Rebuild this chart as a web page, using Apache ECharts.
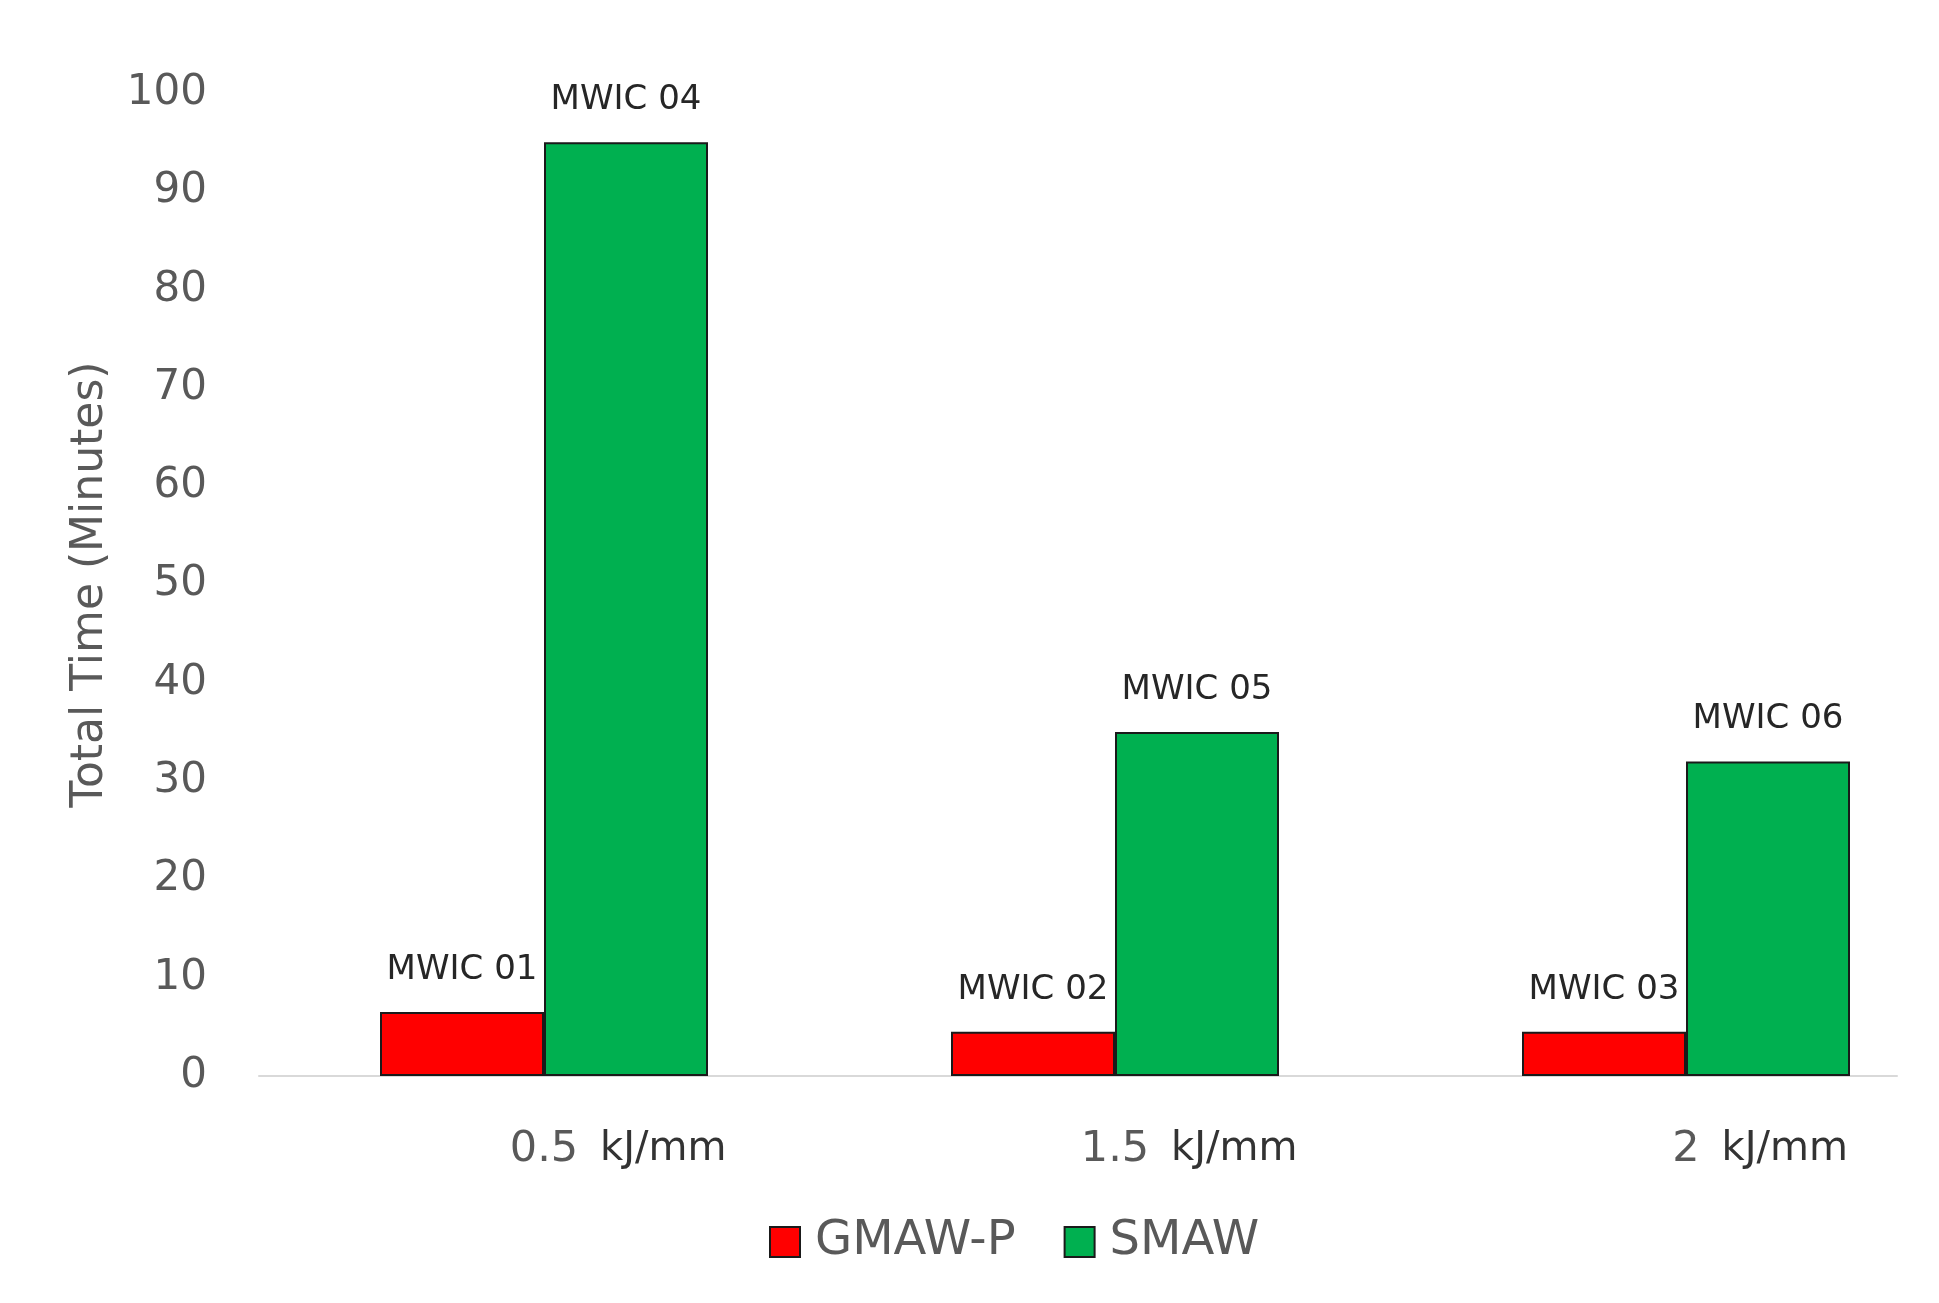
<!DOCTYPE html>
<html>
<head>
<meta charset="utf-8">
<script src="https://cdn.jsdelivr.net/npm/echarts@6/dist/echarts.min.js"></script>
<style>
html,body{margin:0;padding:0;background:#fff;}
#chart{width:1939px;height:1303px;}
</style>
</head>
<body>
<div id="chart"></div>
<script>
const categories = ['0.5', '1.5', '2'];
const unitText = 'kJ/mm';
const seriesNames = ['GMAW-P', 'SMAW'];
const gmawValues = [6.5, 4.5, 4.5];
const smawValues = [95, 35, 32];
const gmawLabels = ['MWIC 01', 'MWIC 02', 'MWIC 03'];
const smawLabels = ['MWIC 04', 'MWIC 05', 'MWIC 06'];
const yTicks = [0, 10, 20, 30, 40, 50, 60, 70, 80, 90, 100];

const chart = echarts.init(document.getElementById('chart'), null, {renderer: 'canvas'});

function labelCfg(names) {
  return {
    show: true,
    position: 'top',
    distance: 25,
    formatter: p => names[p.dataIndex],
    fontFamily: 'DejaVu Sans',
    fontSize: 34,
    color: '#262626'
  };
}

const yMin = yTicks[0];
const yMax = yTicks[yTicks.length - 1];

const option = {
  backgroundColor: '#ffffff',
  animation: false,
  legend: {
    left: 769,
    top: 1218,
    padding: 0,
    itemWidth: 30,
    itemHeight: 30,
    itemGap: 48,
    icon: 'rect',
    textStyle: {fontFamily: 'DejaVu Sans', fontSize: 48, color: '#595959', padding: [0, 0, 0, 10]},
    data: seriesNames
  },
  grid: [
    // bars grid: category points sit on the group centres
    {left: 544, right: 253, top: 93, bottom: 227, containLabel: false},
    // frame grid: carries the y axis and the baseline
    {left: 259, right: 42, top: 93, bottom: 227, containLabel: false}
  ],
  xAxis: [
    {
      type: 'category',
      gridIndex: 0,
      data: categories,
      boundaryGap: false,
      axisLine: {show: false},
      axisTick: {show: false},
      splitLine: {show: false},
      axisLabel: {
        margin: 52,
        formatter: v => '{pad|}{n|' + v + '}{u|' + unitText + '}',
        rich: {
          pad: {width: 150},
          n: {fontFamily: 'DejaVu Sans', fontSize: 43, color: '#595959'},
          u: {fontFamily: 'DejaVu Sans', fontSize: 40, color: '#333333', width: 130, padding: [0, 0, 0, 20]}
        }
      }
    },
    {
      type: 'category',
      gridIndex: 1,
      data: categories,
      axisLine: {show: true, lineStyle: {color: '#d9d9d9', width: 2}},
      axisTick: {show: false},
      axisLabel: {show: false}
    }
  ],
  yAxis: [
    {
      type: 'value',
      gridIndex: 0,
      min: yMin, max: yMax,
      interval: 10,
      show: false
    },
    {
      type: 'value',
      gridIndex: 1,
      min: yMin, max: yMax,
      interval: 10,
      name: 'Total Time (Minutes)',
      nameLocation: 'middle',
      nameGap: 146,
      nameTextStyle: {fontFamily: 'DejaVu Sans', fontSize: 44, color: '#595959'},
      axisLine: {show: false},
      axisTick: {show: false},
      splitLine: {show: false},
      axisLabel: {margin: 52, fontFamily: 'DejaVu Sans', fontSize: 42, color: '#595959', padding: [6, 0, 0, 0]}
    }
  ],
  series: [
    {
      name: seriesNames[0],
      type: 'bar',
      xAxisIndex: 0,
      yAxisIndex: 0,
      data: gmawValues,
      barWidth: 164,
      barGap: '0%',
      itemStyle: {color: '#ff0000', borderColor: '#1a1a1a', borderWidth: 2},
      label: labelCfg(gmawLabels)
    },
    {
      name: seriesNames[1],
      type: 'bar',
      xAxisIndex: 0,
      yAxisIndex: 0,
      data: smawValues,
      barWidth: 164,
      barGap: '0%',
      itemStyle: {color: '#00b050', borderColor: '#1a1a1a', borderWidth: 2},
      label: labelCfg(smawLabels)
    }
  ]
};
chart.setOption(option);
</script>
</body>
</html>
